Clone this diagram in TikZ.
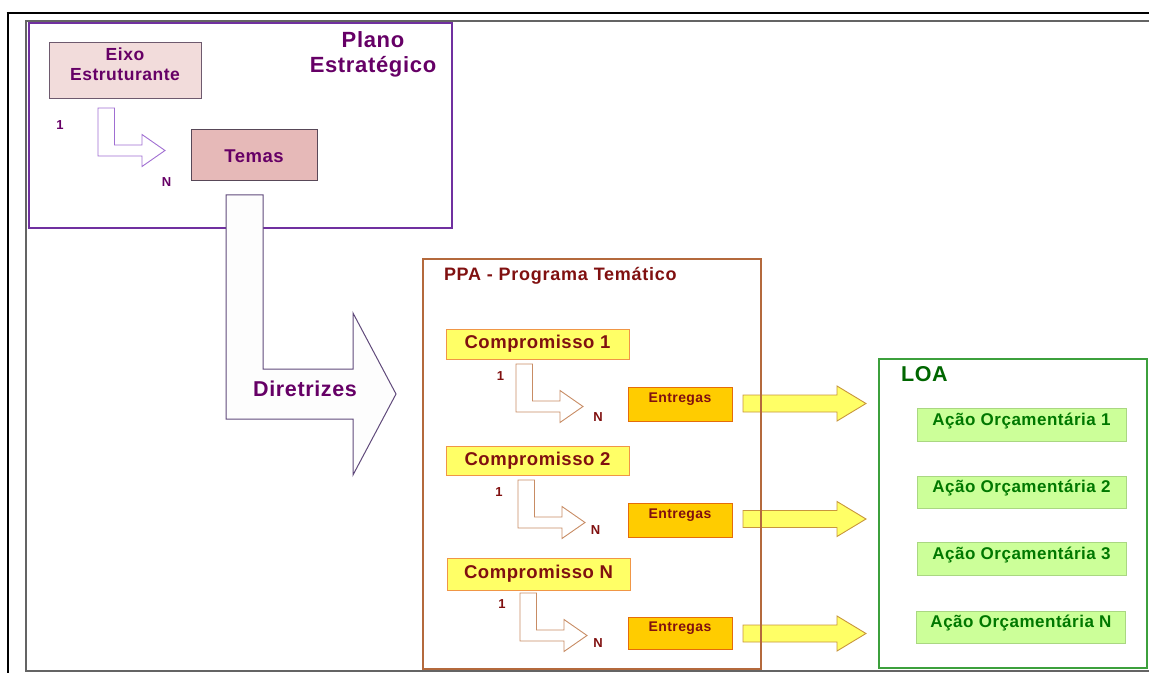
\documentclass[tikz,border=0pt]{standalone}
\usepackage{fontspec}
\setmainfont{Liberation Sans}[LetterSpace=3]
\newfontfamily\widefont{Liberation Sans}[LetterSpace=4.2]
\usetikzlibrary{calc}
\definecolor{frgray}{RGB}{100,100,100}
\definecolor{plpurple}{RGB}{112,48,160}
\definecolor{txpurple}{RGB}{102,0,102}
\definecolor{eixofill}{RGB}{242,220,219}
\definecolor{temasfill}{RGB}{230,185,184}
\definecolor{boxgray}{RGB}{110,90,110}
\definecolor{arrpurple}{RGB}{160,110,210}
\definecolor{dirline}{RGB}{96,74,123}
\definecolor{dirfill}{RGB}{253,253,253}
\definecolor{ppabrown}{RGB}{180,105,60}
\definecolor{txred}{RGB}{128,16,16}
\definecolor{compfill}{RGB}{255,255,102}
\definecolor{comporange}{RGB}{240,150,70}
\definecolor{arrbrown}{RGB}{200,140,100}
\definecolor{entfill}{RGB}{255,204,0}
\definecolor{entorange}{RGB}{228,108,10}
\definecolor{yarrline}{RGB}{200,150,60}
\definecolor{loagreen}{RGB}{60,160,60}
\definecolor{txgreen}{RGB}{0,102,0}
\definecolor{acaotx}{RGB}{0,120,0}
\definecolor{acaofill}{RGB}{204,255,153}
\definecolor{acaoline}{RGB}{170,215,130}
\newcommand\myfs[2]{\fontsize{#1bp}{#2bp}\selectfont\bfseries}
\begin{document}
\begin{tikzpicture}[x=1bp,y=-1bp,
  every node/.style={inner sep=0pt, outer sep=0pt},
  box/.style={draw, line width=0.8bp},
  eixobox/.style={box, draw=boxgray, fill=eixofill, minimum width=152bp, minimum height=56bp},
  temasbox/.style={box, draw=boxgray!80!black, fill=temasfill, minimum width=126bp, minimum height=51bp,
     text=txpurple, font=\myfs{18.5}{22}, text height=17bp, text depth=0bp},
  compbox/.style={box, draw=comporange, fill=compfill, minimum width=183bp, text=txred, font=\myfs{18.5}{22}},
  entbox/.style={box, draw=entorange, fill=entfill, minimum width=104bp, text=txred, font=\myfs{14}{16},
     text height=10bp, text depth=14bp},
  acaobox/.style={box, draw=acaoline, fill=acaofill, minimum width=209bp, text=acaotx, font=\myfs{17}{20},
     text height=13bp, text depth=12bp},
  numlbl/.style={font=\myfs{13}{15}, anchor=base},
  bentarr/.pic={\path[pic actions] (0,0) -- (16.5,0) -- (16.5,37) -- (44,37) -- (44,26.5) -- (67,42.5)
     -- (44,58.5) -- (44,48) -- (0,48) -- cycle;},
  yarr/.pic={\path[pic actions] (0,-8.5) -- (94,-8.5) -- (94,-17.5) -- (123,0) -- (94,17.5) -- (94,8.5)
     -- (0,8.5) -- cycle;}
]
\useasboundingbox (0,0) rectangle (1149,673);
% frame
\draw[black, line width=2bp] (6.5,13) -- (1149,13);
\draw[black, line width=2.3bp] (7.8,12) -- (7.8,673);
\draw[frgray, line width=1.6bp] (1149,21) -- (26,21) -- (26,670.7) -- (1149,670.7);

% Plano Estrategico
\node[draw=plpurple, line width=2bp, minimum width=423bp, minimum height=205bp] (plano) at (240.5,125.5) {};
\node[text=txpurple, font=\myfs{22}{25}, align=center] (planot) at (373,54.8) {Plano\\Estratégico};
\node[eixobox] (eixo) at (125,70) {};
\node[text=txpurple, font=\myfs{17.5}{20}, align=center] (eixot) at (125,64.5) {Eixo\\Estruturante};
\node[temasbox] (temas) at (254,154.5) {Temas};
\pic[draw=arrpurple, fill=white, line width=0.9bp] at (98,108) {bentarr};
\node[numlbl, text=txpurple] (p1) at (60,130) {1};
\node[numlbl, text=txpurple] (pN) at (166.5,186.7) {N};

% Diretrizes arrow
\draw[dirline, fill=dirfill, line width=1bp] (226,195) -- (263,195) -- (263,369) -- (353,369) -- (353,313)
  -- (396,394) -- (353,475) -- (353,419) -- (226,419) -- cycle;
\node[text=txpurple, font=\myfs{21.5}{24}, anchor=base] (dir) at (305,396.5) {Diretrizes};

% PPA contents
\node[text=txred, font={\widefont\myfs{18}{21}}, anchor=base west] (ppat) at (444,280) {PPA - Programa Temático};
\node[compbox, minimum height=30bp] (c1) at (537.5,344) {Compromisso 1};
\node[compbox, minimum height=29bp] (c2) at (537.5,460.5) {Compromisso 2};
\node[compbox, minimum height=32bp] (cN) at (538.5,574) {Compromisso N};
\node[entbox, minimum height=34bp] (e1) at (680,404) {Entregas};
\node[entbox, minimum height=34bp] (e2) at (680,520) {Entregas};
\node[entbox, minimum height=32bp] (eN) at (680,633) {Entregas};
\pic[draw=arrbrown, fill=white, line width=0.9bp] at (516,364) {bentarr};
\pic[draw=arrbrown, fill=white, line width=0.9bp] at (518,480) {bentarr};
\pic[draw=arrbrown, fill=white, line width=0.9bp] at (520,593) {bentarr};
\node[numlbl, text=txred] (n11) at (500.5,380) {1};
\node[numlbl, text=txred] (n1N) at (598,421.7) {N};
\node[numlbl, text=txred] (n21) at (499,496) {1};
\node[numlbl, text=txred] (n2N) at (595.5,534) {N};
\node[numlbl, text=txred] (n31) at (502,608) {1};
\node[numlbl, text=txred] (n3N) at (598,647) {N};

% yellow arrows
\pic[draw=yarrline, fill=compfill, line width=0.9bp] at ($(e1.east)+(11,-0.5)$) {yarr};
\pic[draw=yarrline, fill=compfill, line width=0.9bp] at ($(e2.east)+(11,-1)$) {yarr};
\pic[draw=yarrline, fill=compfill, line width=0.9bp] at ($(eN.east)+(11,0.5)$) {yarr};

% PPA frame on top
\node[draw=ppabrown, line width=2bp, minimum width=338bp, minimum height=410bp] (ppa) at (592,464) {};

% LOA
\node[draw=loagreen, line width=2bp, minimum width=268bp, minimum height=309bp] (loa) at (1013,513.5) {};
\node[text=txgreen, font=\myfs{21.5}{24}, anchor=base west] (loat) at (901,381.7) {LOA};
\node[acaobox, minimum height=33bp] (a1) at (1021.5,424.5) {Ação Orçamentária 1};
\node[acaobox, minimum height=32bp] (a2) at (1021.5,492) {Ação Orçamentária 2};
\node[acaobox, minimum height=33bp] (a3) at (1021.5,558.5) {Ação Orçamentária 3};
\node[acaobox, minimum height=32bp] (aN) at (1021,627) {Ação Orçamentária N};
\end{tikzpicture}
\end{document}
